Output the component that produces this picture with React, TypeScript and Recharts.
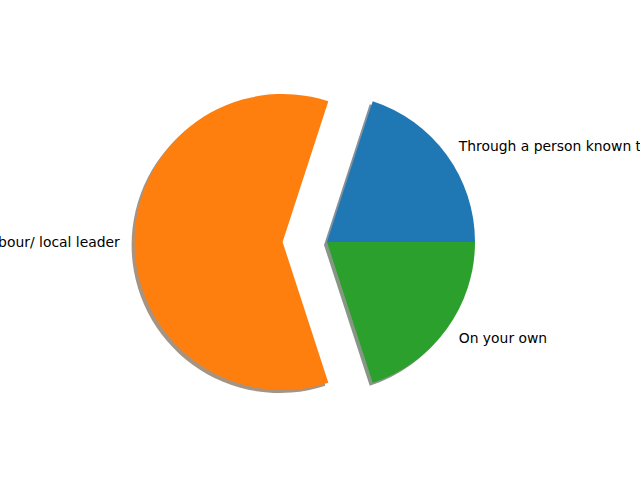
import { Cell, Pie, PieChart } from "recharts";

const labels = [
  "Through a person known to you",
  "Through a neighbour/ local leader",
  "On your own",
];
const shares = [20, 60, 20];
const colors = ["#1f77b4", "#ff7f0e", "#2ca02c"];
const shadowColors = ["#84919a", "#a69382", "#869786"];
const exploded = [false, true, false];

const RADIAN = Math.PI / 180;
const R = 148;
const CX = 327;
const CY = 242;
const SHIFT = 0.3 * R;

const data = labels.map((name, i) => ({ name, value: shares[i] }));

function renderLabel(cx: number, show: (i: number) => boolean) {
  return (p: any) => {
    if (!show(p.index)) return null;
    const a = -p.midAngle * RADIAN;
    const x = cx + 1.1 * R * Math.cos(a);
    const y = CY + 1.1 * R * Math.sin(a);
    return (
      <text
        x={x}
        y={y}
        textAnchor={x > cx ? "start" : "end"}
        dominantBaseline="central"
        fill="#000"
        fontSize={13.9}
        fontFamily="DejaVu Sans"
      >
        {p.name}
      </text>
    );
  };
}

export default function App() {
  const pies = [
    { cx: CX, keep: (i: number) => !exploded[i] },
    { cx: CX - SHIFT, keep: (i: number) => exploded[i] },
  ];
  return (
    <div style={{ width: 640, height: 480 }}>
      <style>{"body{margin:0}"}</style>
      <PieChart width={640} height={480} margin={{ top: 0, right: 0, bottom: 0, left: 0 }}>
        {pies.map((p, k) => (
          <Pie
            key={`s${k}`}
            data={data}
            dataKey="value"
            cx={p.cx - 3}
            cy={CY + 3}
            outerRadius={R}
            startAngle={0}
            endAngle={360}
            stroke="none"
            isAnimationActive={false}
            labelLine={false}
          >
            {data.map((_, i) => (
              <Cell key={i} fill={p.keep(i) ? shadowColors[i] : "none"} />
            ))}
          </Pie>
        ))}
        {pies.map((p, k) => (
          <Pie
            key={`p${k}`}
            data={data}
            dataKey="value"
            cx={p.cx}
            cy={CY}
            outerRadius={R}
            startAngle={0}
            endAngle={360}
            stroke="none"
            isAnimationActive={false}
            labelLine={false}
            label={renderLabel(p.cx, p.keep)}
          >
            {data.map((_, i) => (
              <Cell key={i} fill={p.keep(i) ? colors[i] : "none"} />
            ))}
          </Pie>
        ))}
      </PieChart>
    </div>
  );
}
